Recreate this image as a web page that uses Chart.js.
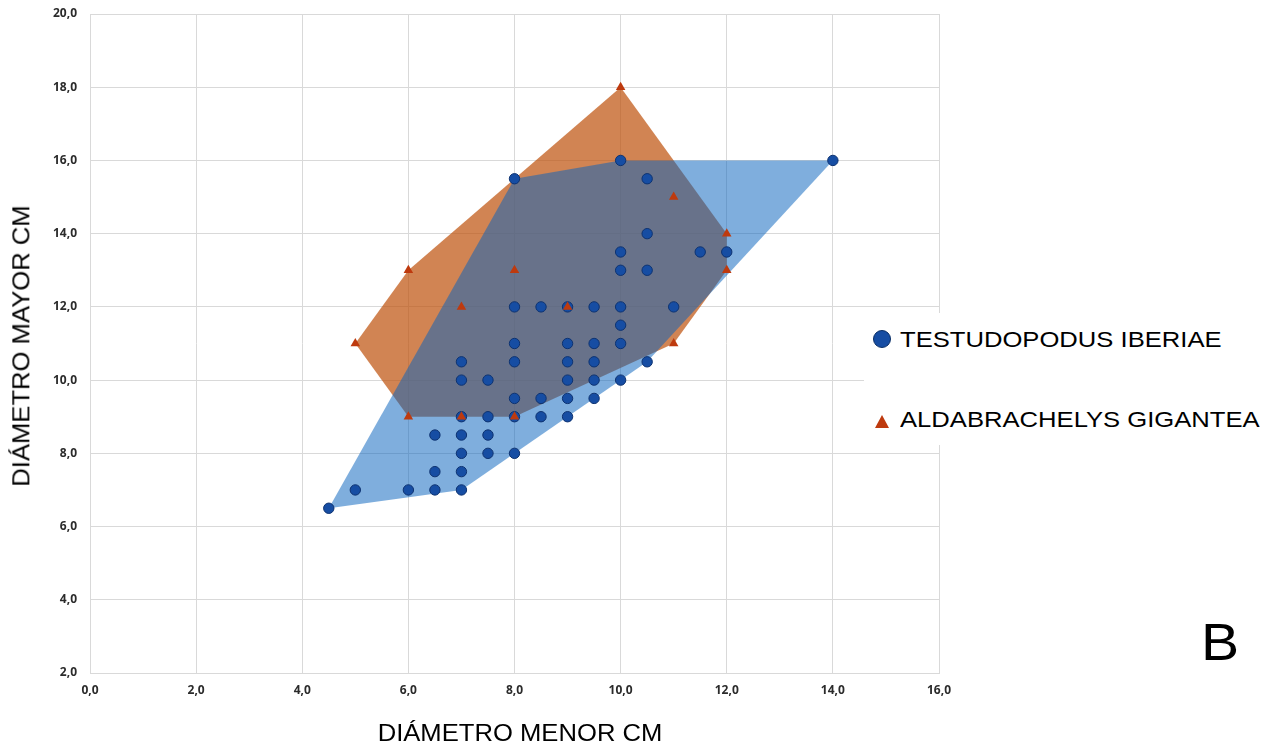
<!DOCTYPE html>
<html>
<head>
<meta charset="utf-8">
<script src="https://cdn.jsdelivr.net/npm/chart.js@4.4.1/dist/chart.umd.min.js"></script>
<style>
  html, body { margin: 0; padding: 0; background: #fff; }
  #wrap { position: relative; width: 1274px; height: 747px; background: #fff; overflow: hidden; }
  #c { position: absolute; left: 0; top: 0; }
  .txt { position: absolute; font-family: "Liberation Sans", Arial, sans-serif; color: #000; white-space: nowrap; line-height: 1; }
  #xtitle { font-size: 23.3px; left: 520px; top: 722px; transform: translateX(-50%) scaleX(1.1); transform-origin: center; }
  #ytitle { font-size: 23.3px; left: 22px; top: 346px; transform: translate(-50%, -50%) rotate(-90deg) scaleX(1.1); transform-origin: center; }
  #legbox { position: absolute; left: 864px; top: 313px; width: 410px; height: 132px; background: #fff; }
  .legtxt { font-size: 21.9px; left: 900px; transform: scaleX(1.17); transform-origin: left center; }
  #leg1 { top: 328.8px; }
  #leg2 { top: 409.3px; }
  #legcirc { position: absolute; left: 872.7px; top: 330px; width: 16px; height: 16px; border-radius: 50%; background: #164DA3; border: 1px solid #0b2f66; }
  #legtri { position: absolute; left: 875px; top: 415px; width: 0; height: 0; border-left: 7px solid transparent; border-right: 7px solid transparent; border-bottom: 13px solid #BE3A0E; }
  #bletter { font-size: 52px; left: 1201px; top: 616px; transform: scaleX(1.1); transform-origin: left center; }
</style>
</head>
<body>
<div id="wrap">
  <canvas id="c" width="1274" height="747"></canvas>
  <div id="legbox"></div>
  <div id="legcirc"></div>
  <div id="legtri"></div>
  <div class="txt legtxt" id="leg1">TESTUDOPODUS IBERIAE</div>
  <div class="txt legtxt" id="leg2">ALDABRACHELYS GIGANTEA</div>
  <div class="txt" id="xtitle">DIÁMETRO MENOR CM</div>
  <div class="txt" id="ytitle">DIÁMETRO MAYOR CM</div>
  <div class="txt" id="bletter">B</div>
</div>
<script>
// ---- Data ----
const seriesNames = ['TESTUDOPODUS IBERIAE', 'ALDABRACHELYS GIGANTEA'];
const xTitle = 'DIÁMETRO MENOR CM';
const yTitle = 'DIÁMETRO MAYOR CM';

// Testudopodus iberiae: diámetro menor (x) / diámetro mayor (y)
const iberiaeX = [4.5, 5, 6, 6.5, 7, 6.5, 7, 7, 7.5, 8, 6.5, 7, 7.5,
                  7, 7.5, 8, 8.5, 9, 8, 8.5, 9, 9.5,
                  7, 7.5, 9, 9.5, 10, 7, 8, 9, 9.5, 10.5,
                  8, 9, 9.5, 10, 10, 8, 8.5, 9, 9.5, 10, 11,
                  10, 10.5, 10, 11.5, 12, 10.5, 8, 10.5, 10, 14];
const iberiaeY = [6.5, 7, 7, 7, 7, 7.5, 7.5, 8, 8, 8, 8.5, 8.5, 8.5,
                  9, 9, 9, 9, 9, 9.5, 9.5, 9.5, 9.5,
                  10, 10, 10, 10, 10, 10.5, 10.5, 10.5, 10.5, 10.5,
                  11, 11, 11, 11, 11.5, 12, 12, 12, 12, 12, 12,
                  13, 13, 13.5, 13.5, 13.5, 14, 15.5, 15.5, 16, 16];

// Aldabrachelys gigantea
const giganteaX = [5, 6, 6, 7, 7, 8, 8, 9, 10, 11, 12, 12, 11];
const giganteaY = [11, 13, 9, 12, 9, 13, 9, 12, 18, 15, 14, 13, 11];

const xTicks = { min: 0, max: 16, step: 2 };
const yTicks = { min: 2, max: 20, step: 2 };

// ---- helpers ----
function toPoints(xs, ys) { return xs.map((x, i) => ({ x: x, y: ys[i] })); }
function cross(o, a, b) { return (a.x - o.x) * (b.y - o.y) - (a.y - o.y) * (b.x - o.x); }
function convexHull(pts) {
  const p = pts.slice().sort((a, b) => a.x - b.x || a.y - b.y);
  const lower = [];
  for (const q of p) { while (lower.length >= 2 && cross(lower[lower.length - 2], lower[lower.length - 1], q) <= 0) lower.pop(); lower.push(q); }
  const upper = [];
  for (let i = p.length - 1; i >= 0; i--) { const q = p[i]; while (upper.length >= 2 && cross(upper[upper.length - 2], upper[upper.length - 1], q) <= 0) upper.pop(); upper.push(q); }
  upper.pop(); lower.pop();
  const h = lower.concat(upper);
  h.push(h[0]);
  return h;
}

const iberiaePts = toPoints(iberiaeX, iberiaeY);
const giganteaPts = toPoints(giganteaX, giganteaY);
const fmt = v => Number(v).toFixed(1).replace('.', ',');
const tickFont = { family: '"Open Sans", "Liberation Sans", sans-serif', size: 12, weight: 'bold' };
const gridColor = '#d9d9d9';

new Chart(document.getElementById('c'), {
  type: 'scatter',
  data: {
    datasets: [
      {
        label: seriesNames[1], data: giganteaPts, order: 1,
        pointStyle: 'triangle', pointRadius: 5.5, pointBackgroundColor: '#BE3A0E',
        pointBorderColor: '#BE3A0E', pointBorderWidth: 0, showLine: false
      },
      {
        label: seriesNames[0], data: iberiaePts, order: 2,
        pointStyle: 'circle', pointRadius: 5.2, pointBackgroundColor: '#164DA3',
        pointBorderColor: '#0d3270', pointBorderWidth: 1, showLine: false
      },
      {
        label: 'hull iberiae', data: convexHull(iberiaePts), order: 3,
        showLine: true, pointRadius: 0, borderWidth: 0, borderColor: 'rgba(0,0,0,0)',
        backgroundColor: 'rgba(10,100,190,0.52)', fill: 'shape', tension: 0
      },
      {
        label: 'hull gigantea', data: convexHull(giganteaPts), order: 4,
        showLine: true, pointRadius: 0, borderWidth: 0, borderColor: 'rgba(0,0,0,0)',
        backgroundColor: 'rgba(190,80,10,0.7)', fill: 'shape', tension: 0
      }
    ]
  },
  options: {
    responsive: false,
    animation: false,
    devicePixelRatio: 1,
    events: [],
    layout: { padding: { left: 0, right: 335, top: 14, bottom: 0 } },
    plugins: { legend: { display: false }, tooltip: { enabled: false } },
    scales: {
      x: {
        type: 'linear', min: xTicks.min, max: xTicks.max,
        afterFit: s => { s.height = 74; s.paddingLeft = 0; s.paddingRight = 0; },
        ticks: { stepSize: xTicks.step, callback: fmt, font: tickFont, color: '#2b2b2b', padding: 10, maxRotation: 0 },
        grid: { color: gridColor, lineWidth: 1, drawTicks: false },
        border: { color: gridColor, width: 1 }
      },
      y: {
        type: 'linear', min: yTicks.min, max: yTicks.max,
        afterFit: s => { s.width = 90; s.paddingTop = 0; s.paddingBottom = 0; },
        ticks: { stepSize: yTicks.step, callback: fmt, font: tickFont, color: '#2b2b2b', padding: 13 },
        grid: { color: gridColor, lineWidth: 1, drawTicks: false },
        border: { color: gridColor, width: 1 }
      }
    }
  }
});
</script>
</body>
</html>
